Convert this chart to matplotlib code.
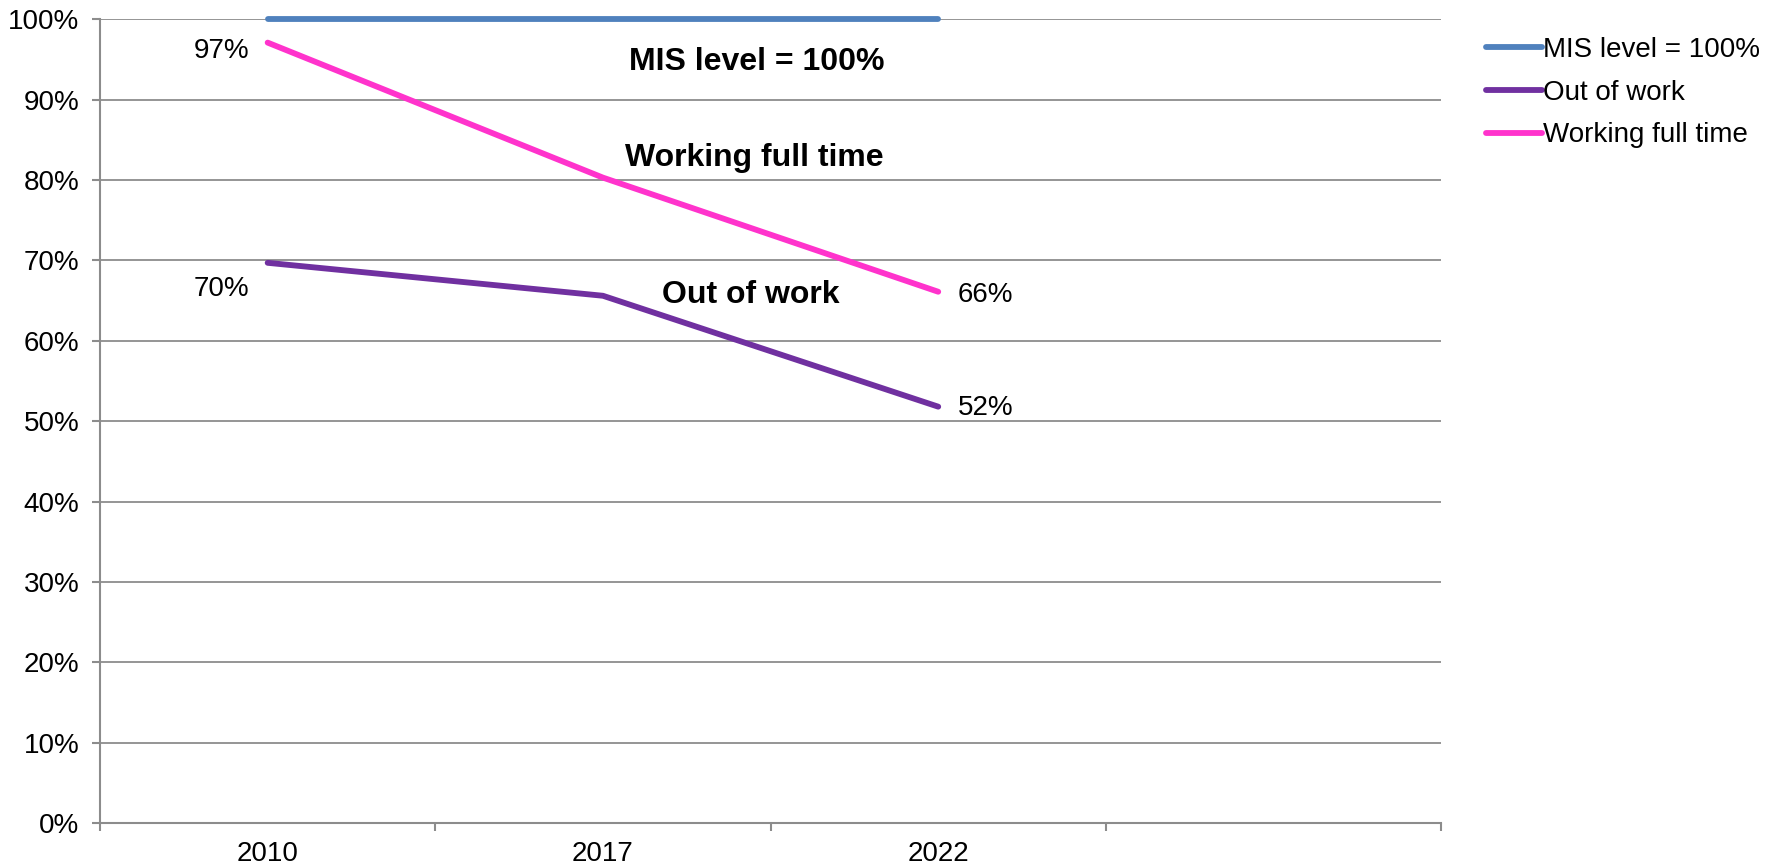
import matplotlib
matplotlib.use("Agg")
import matplotlib.pyplot as plt
from matplotlib.ticker import PercentFormatter

plt.rcParams["font.family"] = ["Liberation Sans", "DejaVu Sans"]

years = ["2010", "2017", "2022", ""]
mis_level = [100, 100, 100]
out_of_work = [69.7, 65.6, 51.8]
full_time = [97.1, 80.3, 66.1]

BLUE, PURPLE, PINK, GRID = "#4F81BD", "#7030A0", "#FF33CC", "#8C8C8C"

fig = plt.figure(figsize=(17.67, 8.66), dpi=100)
ax = fig.add_axes([0.0566, 0.0497, 0.759, 0.928])
x = [0.5, 1.5, 2.5]
ax.plot(x, mis_level, color=BLUE, lw=4.2, label="MIS level = 100%", solid_capstyle="round", clip_on=False, zorder=3)
ax.plot(x, out_of_work, color=PURPLE, lw=4.2, label="Out of work", solid_capstyle="round", zorder=3)
ax.plot(x, full_time, color=PINK, lw=4.2, label="Working full time", solid_capstyle="round", zorder=3)

ax.set_xlim(0, 4); ax.set_ylim(0, 100)
ax.set_yticks(range(0, 101, 10))
ax.yaxis.set_major_formatter(PercentFormatter(decimals=0))
ax.set_xticks(range(0, 5))
ax.set_xticklabels([])
ax.set_xticks([0.5, 1.5, 2.5, 3.5], minor=True)
ax.set_xticklabels(years, minor=True)
ax.tick_params(axis="x", which="major", length=6, color=GRID, width=1.5)
ax.tick_params(axis="x", which="minor", length=0, pad=13, labelsize=20)
ax.tick_params(axis="y", length=6, color=GRID, width=1.5, labelsize=20, pad=9)
ax.grid(axis="y", color=GRID, lw=1.3)
ax.set_axisbelow(True)
for s in ["top", "right"]:
    ax.spines[s].set_visible(False)
for s in ["left", "bottom"]:
    ax.spines[s].set_color(GRID); ax.spines[s].set_linewidth(1.5)

# data labels
ax.annotate(f"{full_time[0]:.0f}%", (x[0], full_time[0]), xytext=(-13, -6), textcoords="offset points",
            ha="right", va="center", fontsize=20)
ax.annotate(f"{out_of_work[0]:.0f}%", (x[0], out_of_work[0]), xytext=(-13, -19), textcoords="offset points",
            ha="right", va="center", fontsize=20)
ax.annotate(f"{full_time[2]:.0f}%", (x[2], full_time[2]), xytext=(14, -2), textcoords="offset points",
            ha="left", va="center", fontsize=20)
ax.annotate(f"{out_of_work[2]:.0f}%", (x[2], out_of_work[2]), xytext=(14, -1), textcoords="offset points",
            ha="left", va="center", fontsize=20)

# series names
ax.text(1.96, 94.7, "MIS level = 100%", ha="center", va="center", fontsize=23, fontweight="bold")
ax.text(1.95, 82.7, "Working full time", ha="center", va="center", fontsize=23, fontweight="bold")
ax.text(1.94, 65.7, "Out of work", ha="center", va="center", fontsize=23, fontweight="bold")

fig.legend(loc="upper left", bbox_to_anchor=(0.827, 0.986), frameon=False, fontsize=20,
           handlelength=2.0, handletextpad=0.05, labelspacing=0.6)
plt.savefig("out.png", dpi=100)
